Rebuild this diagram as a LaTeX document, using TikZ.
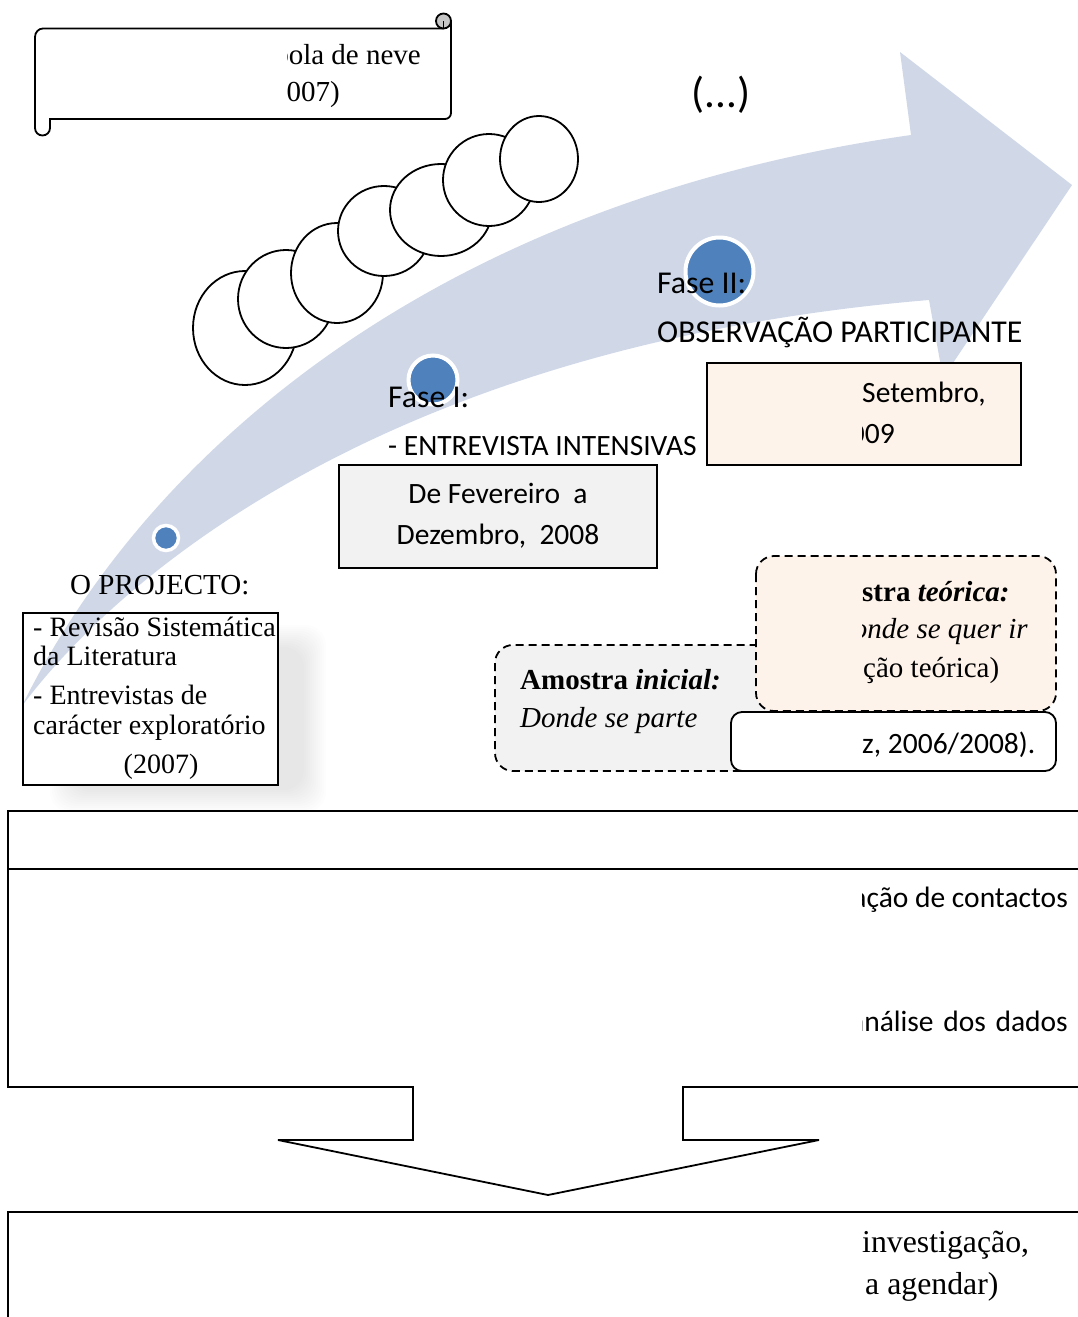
\documentclass[tikz,border=0pt]{standalone}
\usepackage{fontspec}
\setmainfont{Liberation Serif}
\newfontfamily\calib{Carlito}

\definecolor{bandblue}{HTML}{D0D8E8}
\definecolor{dotblue}{HTML}{4F81BD}
\definecolor{peach}{HTML}{FDF3EA}
\definecolor{palegrey}{HTML}{F2F2F2}

\begin{document}
\begin{tikzpicture}[x=1pt,y=-1pt,
  ln/.style={line width=1.8pt},
  tm/.style={font=\fontsize{29}{34}\selectfont, inner sep=0pt},
  tmsmall/.style={font=\fontsize{28}{33}\selectfont, inner sep=0pt},
  tmbig/.style={font=\fontsize{31.8}{37}\selectfont, inner sep=0pt},
  cb/.style={font=\calib\fontsize{29.5}{35}\selectfont, inner sep=0pt},
  cbbig/.style={font=\calib\fontsize{31.8}{37}\selectfont, inner sep=0pt},
  dashbox/.style={line width=1.8pt, dash pattern=on 8pt off 5pt, rounded corners=18pt},
  snow/.style={ln, fill=white},
  dot/.style={fill=dotblue, draw=white, line width=4pt},
]
\clip (0,0) rectangle (1078,1317);
\fill[white] (0,0) rectangle (1078,1317);

% soft shadow around the project box
\begin{scope}
  \clip (0,0) -- (1078,0) -- (1078,1317) -- (0,1317) -- cycle
        (23,613) -- (23,785) -- (278,785) -- (278,613) -- cycle;
  \foreach \i in {0,...,11}
    \fill[black, opacity=0.009, rounded corners=20pt]
      (50+2*\i, 625+2*\i) rectangle (326-2*\i, 812-2*\i);
\end{scope}

% curved timeline arrow
\fill[bandblue] (22,706) .. controls (140,465) and (420,205) .. (911,135)
  -- (900,52) -- (1072,185) -- (943,378) -- (929,300)
  .. controls (390,345) and (120,575) .. (22,706) -- cycle;

% scroll banner
\draw[ln, fill=white] (443.5,28.5) -- (43,28.5) to[out=180,in=90] (35,37) -- (35,128)
  arc[start angle=180, end angle=360, radius=7.5pt] -- (50,119) -- (445,119)
  to[out=0,in=-90] (451,113) -- (451,21);
\draw[ln, fill=gray!45] (443.5,21) circle (7.5pt);
\draw[line width=1.2pt] (443.5,21) -- (443.5,28);
\begin{scope}
  \clip (287,0) rectangle (450,130);
  \node[tm, anchor=base east] (scrollA) at (421,64) {bola de neve};
  \node[tm, anchor=base east] (scrollB) at (340,101) {007)};
\end{scope}

% ellipsis label
\node[font=\calib\fontsize{43}{50}\selectfont, inner sep=0pt] (dots) at (721,95) {(...)};

% snowball
\draw[snow] (245,328) ellipse [x radius=52pt, y radius=57pt];
\draw[snow] (286,299) ellipse [x radius=48pt, y radius=49pt];
\draw[snow] (337,273) ellipse [x radius=46pt, y radius=50pt];
\draw[snow] (384,231) ellipse [x radius=46pt, y radius=45pt];
\draw[snow] (441,210) ellipse [x radius=51pt, y radius=46pt];
\draw[snow] (489,180) ellipse [x radius=46pt, y radius=46pt];
\draw[snow] (539,159) ellipse [x radius=39pt, y radius=43pt];

% milestones on the timeline
\draw[dot, line width=3.5pt] (166,538) circle (12.5pt);
\draw[dot] (433,380) circle (24.5pt);
\draw[dot] (719.5,271.5) circle (34pt);

% phase labels
\node[cbbig, anchor=base west] (f2) at (657,293) {Fase II:};
\node[cbbig, anchor=base west] (f2b) at (657,342) {OBSERVAÇÃO PARTICIPANTE};
\node[cbbig, anchor=base west] (f1) at (388,407) {Fase I:};
\node[cb, anchor=base west] (f1b) at (388,455) {- ENTREVISTA INTENSIVAS};

% date boxes
\draw[ln, fill=palegrey] (339,465) rectangle (657,568);
\node[cb, anchor=base] (d1) at (498,503) {De Fevereiro\ \ a};
\node[cb, anchor=base] (d2) at (498,544) {Dezembro,\ \ 2008};
\draw[ln, fill=peach] (707,363) rectangle (1021,465);

% project box
\draw[ln] (23,613) rectangle (278,785);
\node[tm, anchor=base west] (proj) at (70,594) {O PROJECTO:};
\node[tmsmall, anchor=base west] (p1) at (33,636) {- Revisão Sistemática};
\node[tmsmall, anchor=base west] (p2) at (33,665) {da Literatura};
\node[tmsmall, anchor=base west] (p3) at (33,704) {- Entrevistas de};
\node[tmsmall, anchor=base west] (p4) at (33,734) {carácter exploratório};
\node[tmsmall, anchor=base] (p5) at (161,773) {(2007)};

% sample boxes
\draw[dashbox, fill=palegrey] (495,645) rectangle (820,771);
\node[tm, anchor=base west] (s1) at (520,689) {\textbf{Amostra \textit{inicial:}}};
\node[tm, anchor=base west] (s2) at (520,727) {\textit{Donde se parte}};
\draw[dashbox, fill=peach] (756,556) rectangle (1056,711);
\draw[ln, fill=white, rounded corners=11pt] (731,712) rectangle (1056,771);

% lower process frame and arrow
\draw[ln, miter limit=2] (1090,811) -- (8,811) -- (8,1087) -- (413,1087) -- (413,1140) -- (278,1140)
  -- (548,1195) -- (819,1140) -- (683,1140) -- (683,1087) -- (1090,1087);
\draw[ln] (8,869) -- (1090,869);
\draw[ln] (1090,1212) -- (8,1212) -- (8,1330);

% right-hand text column
\begin{scope}
  \clip (862,0) rectangle (1078,1317);
  \node[cb, anchor=base west] (r1) at (862,402) {Setembro,};
  \node[cb, anchor=base east] (r2) at (895,443) {009};
  \node[tm, anchor=base west] (r3) at (862,601) {\textbf{stra \textit{teórica:}}};
  \node[tm, anchor=base east] (r4) at (1028,638) {\textit{onde se quer ir}};
  \node[tm, anchor=base west] (r5) at (863,677) {ção teórica)};
  \node[cb, anchor=base west] (r6) at (862,753) {z, 2006/2008).};
  \node[cb, anchor=base east] (r7) at (1068,907) {ação de contactos};
  \node[cb, anchor=base east] (r8) at (1068,1031) {análise\hspace{3pt} dos\hspace{3pt} dados};
  \node[tmbig, anchor=base west] (r9) at (862,1252) {investigação,};
  \node[tmbig, anchor=base west] (r10) at (865,1294) {a agendar)};
\end{scope}
\end{tikzpicture}
\end{document}
